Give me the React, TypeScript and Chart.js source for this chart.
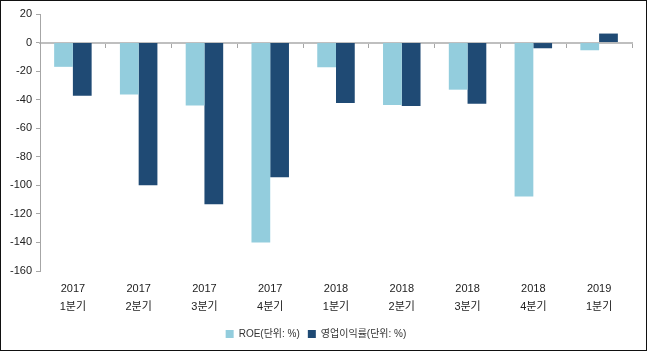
import React, { useEffect, useRef } from "react";
import { Chart, registerables } from "chart.js";

Chart.register(...registerables);

const years = ["2017", "2017", "2017", "2017", "2018", "2018", "2018", "2018", "2019"];
const quarters = ["1분기", "2분기", "3분기", "4분기", "1분기", "2분기", "3분기", "4분기", "1분기"];
const roe = [-17, -36.4, -44.1, -140, -17.3, -43.7, -33, -107.8, -5.4];
const opMargin = [-37.2, -100, -113.3, -94.3, -42.3, -44.4, -42.8, -4, 6.3];
const yMin = -160;
const yMax = 20;
const yStep = 20;

const FONT = "'Liberation Sans', 'Noto Sans CJK KR', sans-serif";

export default function App() {
  const ref = useRef<HTMLCanvasElement>(null);
  useEffect(() => {
    const chart = new Chart(ref.current!, {
      type: "bar",
      data: {
        labels: years.map((y, i) => [y, quarters[i]]),
        datasets: [
          {
            label: "ROE(단위: %)",
            data: roe,
            backgroundColor: "#93CDDD",
            borderWidth: 0,
            categoryPercentage: 0.57,
            barPercentage: 1,
          },
          {
            label: "영업이익률(단위: %)",
            data: opMargin,
            backgroundColor: "#1F4A74",
            borderWidth: 0,
            categoryPercentage: 0.57,
            barPercentage: 1,
          },
        ],
      },
      options: {
        animation: false,
        responsive: false,
        maintainAspectRatio: false,
        layout: { padding: { left: 0, right: 15, top: 14, bottom: 2 } },
        plugins: {
          tooltip: { enabled: false },
          legend: {
            position: "bottom",
            labels: {
              boxWidth: 8,
              boxHeight: 8,
              padding: 8,
              color: "#333",
              font: { size: 10, family: FONT },
            },
          },
        },
        scales: {
          x: {
            grid: { display: false, drawTicks: false, tickLength: 0 },
            border: { display: false },
            ticks: {
              color: "#222",
              padding: 9,
              font: { size: 11, family: FONT, lineHeight: 1.65 },
            },
            afterFit: (s: any) => {
              s.height = 50;
            },
          },
          x2: {
            type: "category",
            position: { y: 0 } as any,
            offset: true,
            grid: {
              offset: true,
              drawOnChartArea: false,
              drawTicks: true,
              tickLength: 4,
              color: "#A6A6A6",
            },
            border: { color: "#BFBFBF", width: 2 },
            ticks: { display: false },
          },
          y: {
            min: yMin,
            max: yMax,
            ticks: {
              stepSize: yStep,
              color: "#222",
              padding: 4,
              font: { size: 11, family: FONT },
            },
            grid: { drawOnChartArea: false, tickLength: 4, color: "#A6A6A6" },
            border: { color: "#A6A6A6" },
            afterFit: (s: any) => {
              s.width = 40;
            },
          },
        },
      },
    });
    return () => chart.destroy();
  }, []);
  return (
    <div style={{ position: "absolute", left: 0, top: 0, width: 647, height: 351, background: "#fff" }}>
      <canvas ref={ref} width={647} height={351} style={{ display: "block" }} />
      <div
        style={{
          position: "absolute",
          left: 0,
          top: 0,
          width: 647,
          height: 351,
          boxSizing: "border-box",
          border: "1px solid #111",
          pointerEvents: "none",
        }}
      />
    </div>
  );
}
